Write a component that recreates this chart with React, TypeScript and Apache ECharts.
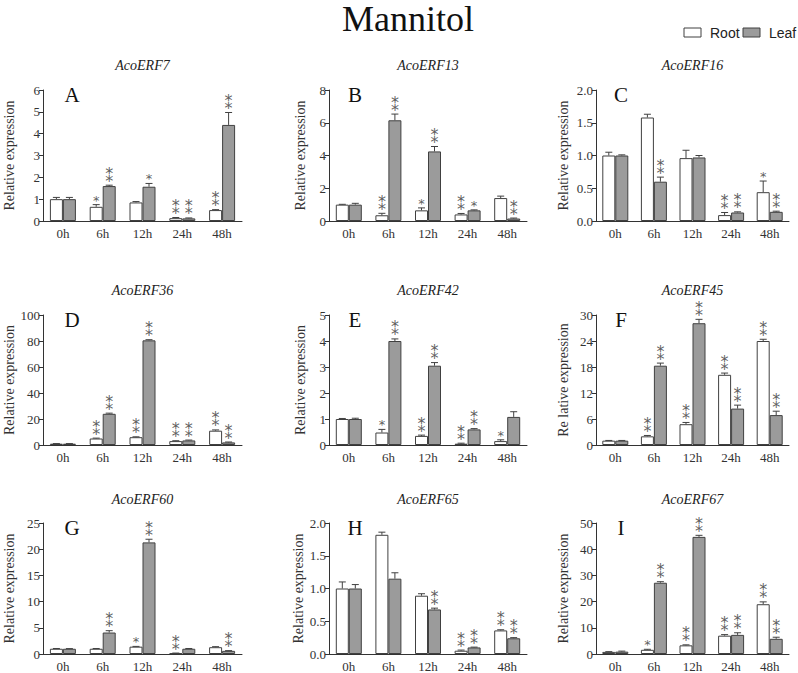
import React, { useEffect, useRef } from 'react';
import * as echarts from 'echarts';

const categories = ['0h', '6h', '12h', '24h', '48h'];
const genes = ['AcoERF7', 'AcoERF13', 'AcoERF16', 'AcoERF36', 'AcoERF42', 'AcoERF45', 'AcoERF60', 'AcoERF65', 'AcoERF67'];
const letters = ['A', 'B', 'C', 'D', 'E', 'F', 'G', 'H', 'I'];
const legendNames = ['Root', 'Leaf'];
const starMarks = ['', '*', '\u2051'];
const yMax = [6, 8, 2, 100, 5, 30, 25, 2, 50];
const yInterval = [1, 2, 0.5, 20, 1, 6, 5, 0.5, 10];
const yDecimals = [0, 0, 1, 0, 0, 0, 0, 1, 0];
const yNames = [
  'Relative expression', 'Relative expression', 'Relative expression',
  'Relative expression', 'Relative expression', 'Re lative expression',
  'Relative expression', 'Relative expression', 'Relative expression',
];

const rootMean = [
  [1.0, 0.65, 0.85, 0.13, 0.5],
  [1.0, 0.35, 0.65, 0.4, 1.4],
  [1.0, 1.58, 0.96, 0.09, 0.44],
  [1, 5, 6, 3, 11],
  [1.0, 0.48, 0.35, 0.05, 0.15],
  [1.0, 2.0, 4.8, 16.2, 24.0],
  [1.0, 1.0, 1.4, 0.15, 1.3],
  [1.0, 1.82, 0.89, 0.05, 0.36],
  [0.8, 1.6, 3.3, 7.0, 19.0],
];
const rootErr = [
  [0.08, 0.1, 0.04, 0.03, 0.02],
  [0.02, 0.12, 0.15, 0.06, 0.12],
  [0.05, 0.05, 0.12, 0.04, 0.17],
  [0.1, 0.3, 0.3, 0.3, 0.6],
  [0.02, 0.12, 0.03, 0.02, 0.05],
  [0.05, 0.2, 0.4, 0.4, 0.4],
  [0.05, 0.05, 0.05, 0.03, 0.1],
  [0.1, 0.04, 0.03, 0.01, 0.01],
  [0.1, 0.2, 0.2, 0.4, 0.9],
];
const leafMean = [
  [1.0, 1.6, 1.57, 0.12, 4.4],
  [1.0, 6.15, 4.25, 0.65, 0.15],
  [1.0, 0.6, 0.97, 0.13, 0.14],
  [1, 24, 80.5, 3.5, 2],
  [1.0, 4.0, 3.05, 0.6, 1.08],
  [1.0, 18.3, 28.1, 8.4, 6.9],
  [1.0, 4.1, 21.3, 1.0, 0.6],
  [1.0, 1.15, 0.68, 0.1, 0.24],
  [0.9, 27.2, 44.7, 7.3, 5.8],
];
const leafErr = [
  [0.08, 0.04, 0.15, 0.02, 0.57],
  [0.08, 0.38, 0.3, 0.03, 0.03],
  [0.01, 0.07, 0.03, 0.01, 0.01],
  [0.1, 0.5, 0.5, 0.3, 0.3],
  [0.03, 0.08, 0.12, 0.03, 0.2],
  [0.05, 0.6, 0.9, 0.8, 0.9],
  [0.03, 0.35, 0.6, 0.05, 0.05],
  [0.06, 0.09, 0.02, 0.005, 0.01],
  [0.2, 0.4, 0.6, 0.8, 0.6],
];
// number of significance asterisks
const rootSig = [
  [0, 1, 0, 2, 2], [0, 2, 1, 2, 0], [0, 0, 0, 2, 1],
  [0, 2, 2, 2, 2], [0, 1, 2, 2, 1], [0, 2, 2, 2, 2],
  [0, 0, 1, 2, 0], [0, 0, 0, 2, 2], [0, 1, 2, 2, 2],
];
const leafSig = [
  [0, 2, 1, 2, 2], [0, 2, 2, 1, 2], [0, 2, 0, 2, 2],
  [0, 2, 2, 2, 2], [0, 2, 2, 2, 0], [0, 2, 2, 2, 2],
  [0, 2, 2, 0, 2], [0, 0, 2, 2, 2], [0, 2, 2, 2, 2],
];

const COLS = [
  { left: 43, width: 199, gap: 27 },
  { left: 329, width: 198, gap: 22 },
  { left: 596, width: 193, gap: 26 },
];
const ROWS = [
  { top: 90, height: 131, titleY: 65 },
  { top: 315, height: 130, titleY: 290 },
  { top: 523, height: 132, titleY: 499 },
];
const LETTER_X = [72, 355, 621];

const AXIS = '#333';
const EDGE = '#404040';
const GRAY = '#9b9b9b';
const SERIF = "'Liberation Serif', 'Times New Roman', serif";
const SANS = "'Liberation Sans', Arial, sans-serif";
const STAR_FONT = "'DejaVu Sans', sans-serif";
const BAR_W = 13;

export default function App() {
  const ref = useRef<HTMLDivElement>(null);

  useEffect(() => {
    if (!ref.current) return;
    const chart = echarts.init(ref.current, undefined, { renderer: 'svg' });

    const grid: any[] = [];
    const xAxis: any[] = [];
    const yAxis: any[] = [];
    const series: any[] = [];
    const graphic: any[] = [];

    graphic.push({
      type: 'text', x: 408, y: 1,
      style: { text: 'Mannitol', fontFamily: SERIF, fontSize: 36, fill: '#111', align: 'center', verticalAlign: 'top' },
    });
    const legendFills = ['#ffffff', GRAY];
    const legendBoxX = [684, 743];
    for (let j = 0; j < 2; j++) {
      graphic.push({
        type: 'rect', shape: { x: legendBoxX[j], y: 28, width: 17, height: 9 },
        style: { fill: legendFills[j], stroke: EDGE, lineWidth: 1 },
      });
      graphic.push({
        type: 'text', x: legendBoxX[j] + 26, y: 33,
        style: { text: legendNames[j], fontFamily: SANS, fontSize: 14, fill: '#222', align: 'left', verticalAlign: 'middle' },
      });
    }

    for (let i = 0; i < 9; i++) {
      const c = COLS[i % 3];
      const r = ROWS[Math.floor(i / 3)];
      grid.push({ left: c.left, top: r.top, width: c.width, height: r.height });
      xAxis.push({
        type: 'category', gridIndex: i, data: categories,
        axisLine: { lineStyle: { color: AXIS, width: 1 } },
        axisTick: { show: false },
        axisLabel: { color: AXIS, fontFamily: SERIF, fontSize: 13, margin: 6 },
      });
      const dec = yDecimals[i];
      yAxis.push({
        type: 'value', gridIndex: i, min: 0, max: yMax[i], interval: yInterval[i],
        name: yNames[i], nameLocation: 'middle', nameGap: c.gap,
        nameTextStyle: { color: AXIS, fontFamily: SERIF, fontSize: 14 },
        axisLine: { show: true, lineStyle: { color: AXIS, width: 1 } },
        axisTick: { show: true, length: 4, lineStyle: { color: AXIS } },
        axisLabel: { color: AXIS, fontFamily: SERIF, fontSize: 13, margin: 3, formatter: (v: number) => v.toFixed(dec) },
        splitLine: { show: false },
      });
      series.push({
        name: 'Root', type: 'bar', xAxisIndex: i, yAxisIndex: i, data: rootMean[i],
        barWidth: BAR_W, barGap: '0%',
        itemStyle: { color: '#ffffff', borderColor: EDGE, borderWidth: 1 },
      });
      series.push({
        name: 'Leaf', type: 'bar', xAxisIndex: i, yAxisIndex: i, data: leafMean[i],
        barWidth: BAR_W, barGap: '0%',
        itemStyle: { color: GRAY, borderColor: EDGE, borderWidth: 1 },
      });
      const errData: any[] = [];
      const starData: any[] = [];
      for (let k = 0; k < categories.length; k++) {
        errData.push([k, rootMean[i][k], rootErr[i][k], 0]);
        errData.push([k, leafMean[i][k], leafErr[i][k], 1]);
        const sides = [
          { n: rootSig[i][k], top: rootMean[i][k] + rootErr[i][k], dx: -BAR_W / 2 },
          { n: leafSig[i][k], top: leafMean[i][k] + leafErr[i][k], dx: BAR_W / 2 },
        ];
        for (const s of sides) {
          if (s.n > 0) {
            starData.push({
              name: starMarks[s.n],
              value: [k, s.top],
              label: { offset: [s.dx, s.n === 2 ? 1 : 4], fontSize: s.n === 2 ? 16 : 13 },
            });
          }
        }
      }
      series.push({
        name: 'err' + i, type: 'custom', xAxisIndex: i, yAxisIndex: i, z: 5,
        encode: { x: 0, y: 1 }, silent: true,
        data: errData,
        renderItem: (params: any, api: any) => {
          const cat = api.value(0);
          const val = api.value(1);
          const err = api.value(2);
          const side = api.value(3);
          const base = api.coord([cat, val]);
          const top = api.coord([cat, val + err]);
          const x = base[0] + (side === 0 ? -BAR_W / 2 : BAR_W / 2);
          const children: any[] = [];
          if (err > 0) {
            children.push({ type: 'line', shape: { x1: x, y1: base[1], x2: x, y2: top[1] }, style: { stroke: EDGE, lineWidth: 1 } });
            children.push({ type: 'line', shape: { x1: x - 3.5, y1: top[1], x2: x + 3.5, y2: top[1] }, style: { stroke: EDGE, lineWidth: 1 } });
          }
          return { type: 'group', children };
        },
      });
      series.push({
        name: 'sig' + i, type: 'scatter', xAxisIndex: i, yAxisIndex: i, z: 6,
        symbolSize: 0, silent: true,
        data: starData,
        label: {
          show: true, position: 'top', distance: 2, formatter: '{b}',
          color: '#333', fontFamily: STAR_FONT,
        },
      });
      graphic.push({
        type: 'text', x: c.left + c.width / 2, y: r.titleY,
        style: { text: genes[i], fontFamily: SERIF, fontStyle: 'italic', fontSize: 14, fill: '#222', align: 'center', verticalAlign: 'middle' },
      });
      graphic.push({
        type: 'text', x: LETTER_X[i % 3], y: r.top + 5,
        style: { text: letters[i], fontFamily: SERIF, fontSize: 21, fill: '#111', align: 'center', verticalAlign: 'middle' },
      });
    }

    chart.setOption({
      animation: false,
      backgroundColor: '#ffffff',
      textStyle: { fontFamily: SERIF },
      grid, xAxis, yAxis, series, graphic,
    });

    return () => chart.dispose();
  }, []);

  return <div ref={ref} style={{ position: 'fixed', left: 0, top: 0, width: 798, height: 673 }} />;
}
